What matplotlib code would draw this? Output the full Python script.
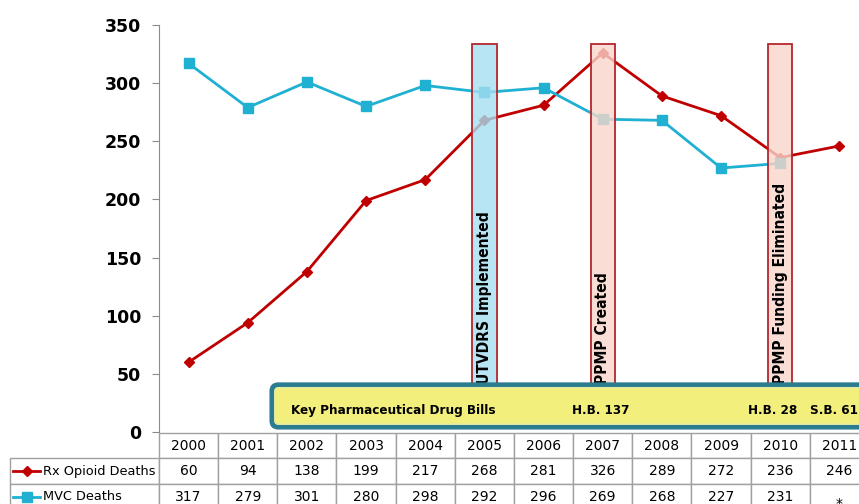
import matplotlib.pyplot as plt
from matplotlib.table import Table
from matplotlib.patches import FancyBboxPatch

years = ['2000', '2001', '2002', '2003', '2004', '2005', '2006', '2007', '2008', '2009', '2010', '2011']
rx_deaths = [60, 94, 138, 199, 217, 268, 281, 326, 289, 272, 236, 246]
mvc_deaths = [317, 279, 301, 280, 298, 292, 296, 269, 268, 227, 231, None]
series_names = ['Rx Opioid Deaths', 'MVC Deaths']

event_years = ['2005', '2007', '2010']
event_labels = ['UTVDRS Implemented', 'PPMP Created', 'PPMP Funding Eliminated']
event_colors = ['#a6dff0', '#f9d6cb', '#f9d6cb']

bill_labels = ['Key Pharmaceutical Drug Bills', 'H.B. 137', 'H.B. 28', 'S.B. 61']

RED = '#c00000'
BLUE = '#1fb0d2'

fig = plt.figure(figsize=(8.59, 5.04), dpi=100)
# axes runs a little past the right edge of the figure, like the original slide
ax = fig.add_axes([159 / 859, 72 / 504, 710 / 859, 407 / 504])

x = list(range(len(years)))
ax.plot(x, rx_deaths, color=RED, lw=2, marker='D', ms=5.5, zorder=3)
mx = [i for i, v in zip(x, mvc_deaths) if v is not None]
my = [v for v in mvc_deaths if v is not None]
ax.plot(mx, my, color=BLUE, lw=2, marker='s', ms=7, zorder=3)

ax.set_xlim(-0.5, len(years) - 0.5)
ax.set_ylim(0, 350)
ax.set_yticks(range(0, 351, 50))
ax.set_xticks([])
for s in ['top', 'right', 'bottom']:
    ax.spines[s].set_visible(False)
ax.spines['left'].set_color('#8c8c8c')
ax.tick_params(axis='y', length=5, color='#8c8c8c', pad=8, labelsize=12.5)
for lab in ax.get_yticklabels():
    lab.set_fontweight('bold')

# event bars drawn over the lines (semi transparent)
for yr, label, col in zip(event_years, event_labels, event_colors):
    i = years.index(yr)
    ax.bar(i, 294, bottom=40, width=0.41, color=col, alpha=0.8, zorder=4)
    ax.bar(i, 294, bottom=40, width=0.41, fill=False, edgecolor='#b3262d', lw=1.3, zorder=5)
    ax.text(i, 41.5, label, rotation=90, ha='center', va='bottom', fontsize=11.2,
            fontweight='bold', family='DejaVu Sans', fontstretch='condensed', zorder=6)

# yellow bills box
box = FancyBboxPatch((0.159, 0.012), 0.9, 0.104, transform=ax.transAxes,
                     boxstyle='round,pad=0,rounding_size=0.009', mutation_aspect=1.74,
                     facecolor='#f3ef7d', edgecolor='#2a7c8e', lw=3.5, zorder=7, clip_on=False)
ax.add_patch(box)
inner = FancyBboxPatch((0.163, 0.019), 0.9, 0.090, transform=ax.transAxes,
                       boxstyle='round,pad=0,rounding_size=0.006', mutation_aspect=1.74,
                       facecolor='none', edgecolor='#dfe9a8', lw=1, zorder=7, clip_on=False)
ax.add_patch(inner)
bill_x = [0.186, 0.582, 0.830, 0.917]
for bx, bl in zip(bill_x, bill_labels):
    ax.text(bx, 0.0516, bl, transform=ax.transAxes, ha='left', va='center',
            fontsize=9.6, fontweight='bold', family='DejaVu Sans', fontstretch='condensed',
            zorder=8, clip_on=False)

# data table under the chart (bbox covers the year columns only)
col_w = 1 / len(years)
lab_w = 149 / 710
row_h = 0.0626
tbl = Table(ax, bbox=[0, -0.0025 - 3 * row_h, 1, 3 * row_h])
for j, yr in enumerate(years):
    tbl.add_cell(0, j, col_w, row_h, text=yr, loc='center')
rows = [[str(v) for v in rx_deaths],
        [str(v) if v is not None else '*' for v in mvc_deaths]]
label_cells = []
for r, (name, vals) in enumerate(zip(series_names, rows), start=1):
    c = tbl.add_cell(r, -1, lab_w, row_h, text=name, loc='left')
    c.PAD = 0.22
    label_cells.append(c)
    for j, v in enumerate(vals):
        cell = tbl.add_cell(r, j, col_w, row_h, text=v, loc='center')
        if v == '*':
            cell.get_text().set_va('top')
tbl.auto_set_font_size(False)
tbl.set_fontsize(10)
for c in label_cells:
    c.get_text().set_fontsize(9.3)
for cell in tbl.get_celld().values():
    cell.set_edgecolor('#a0a0a0')
    cell.set_linewidth(1)
ax.add_table(tbl)

# legend keys in the row label cells
key_x0, key_x1, key_xm = -0.2056, -0.1676, -0.1866
for r, (col, mk, ms) in enumerate([(RED, 'D', 5), (BLUE, 's', 6.5)], start=1):
    yk = -0.0025 - (r + 0.5) * row_h
    ax.plot([key_x0, key_x1], [yk, yk], color=col, lw=2, transform=ax.transAxes, clip_on=False)
    ax.plot([key_xm], [yk], color=col, marker=mk, ms=ms, transform=ax.transAxes, clip_on=False)

fig.savefig('out.png', dpi=100)
